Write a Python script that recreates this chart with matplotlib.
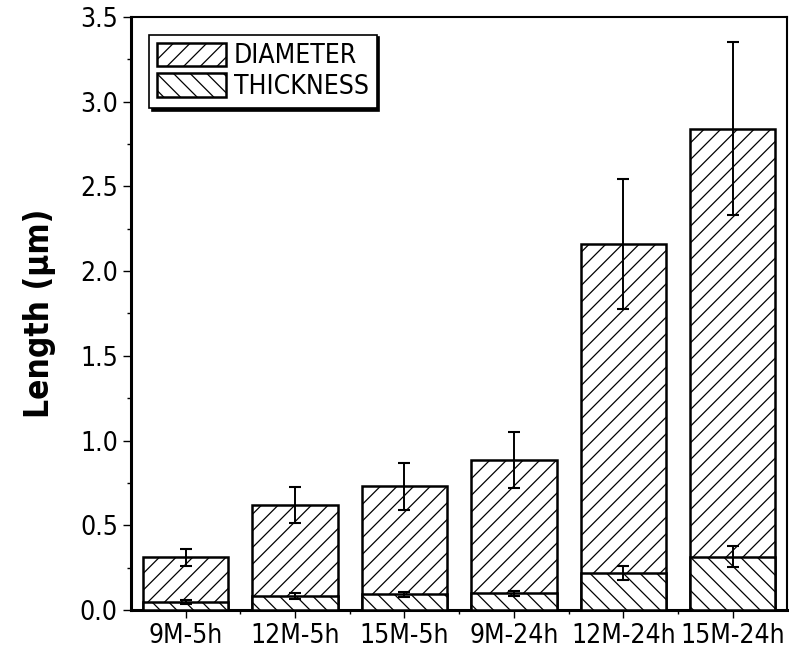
import numpy as np
import matplotlib.pyplot as plt
from matplotlib.ticker import MultipleLocator

plt.rcParams['font.family'] = ['DejaVu Sans']
plt.rcParams['font.stretch'] = 'condensed'
plt.rcParams['hatch.linewidth'] = 0.9

samples = ['9M-5h', '12M-5h', '15M-5h', '9M-24h', '12M-24h', '15M-24h']
diameter = [0.31, 0.62, 0.73, 0.885, 2.16, 2.84]
diameter_err = [0.05, 0.105, 0.14, 0.165, 0.385, 0.51]
thickness = [0.047, 0.083, 0.094, 0.10, 0.22, 0.315]
thickness_err = [0.01, 0.015, 0.015, 0.015, 0.04, 0.06]

x = np.arange(len(samples))

fig = plt.figure(figsize=(7.89, 6.62), dpi=100)
ax = fig.add_axes([0.166, 0.0785, 0.832, 0.896])

ax.bar(x, diameter, width=0.78, color='white', edgecolor='black',
       linewidth=1.8, hatch='//', label='DIAMETER', zorder=2)
ax.errorbar(x, diameter, yerr=diameter_err, fmt='none', ecolor='black',
            elinewidth=1.4, capsize=4, capthick=1.5, zorder=3)
ax.bar(x, thickness, width=0.78, color='white', edgecolor='black',
       linewidth=1.8, hatch='\\\\', label='THICKNESS', zorder=4)
ax.errorbar(x, thickness, yerr=thickness_err, fmt='none', ecolor='black',
            elinewidth=1.4, capsize=4, capthick=1.5, zorder=5)

ax.set_xlim(-0.5, 5.5)
ax.set_ylim(0, 3.5)
ax.set_xticks(x)
ax.set_xticklabels(samples)
ax.xaxis.set_minor_locator(plt.FixedLocator(x[:-1] + 0.5))
ax.yaxis.set_major_locator(MultipleLocator(0.5))
ax.yaxis.set_minor_locator(MultipleLocator(0.25))
ax.yaxis.set_major_formatter(plt.FormatStrFormatter('%.1f'))
ax.tick_params(axis='both', which='major', direction='out', length=6,
               width=1, labelsize=19)
ax.tick_params(axis='both', which='minor', direction='out', length=3, width=1)

for s in ax.spines.values():
    s.set_linewidth(1.5)
ax.spines['left'].set_linewidth(2.2)
ax.spines['bottom'].set_linewidth(2.2)

ax.set_ylabel('Length (\u03bcm)', fontsize=24, fontweight='bold', labelpad=17)

leg = ax.legend(loc='upper left', bbox_to_anchor=(0.028, 0.97), fontsize=19,
                frameon=True, fancybox=False, shadow={'color': 'black', 'alpha': 1},
                edgecolor='black', borderpad=0.3, labelspacing=0.15,
                handlelength=2.6, handleheight=1.0, handletextpad=0.3,
                borderaxespad=0)
leg.get_frame().set_linewidth(1.2)

fig.savefig('out.png', dpi=100)
